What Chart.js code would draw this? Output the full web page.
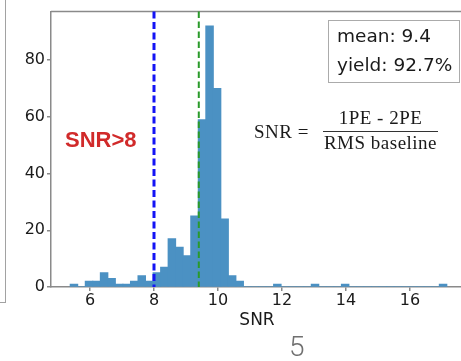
<!DOCTYPE html>
<html>
<head>
<meta charset="utf-8">
<script src="https://cdn.jsdelivr.net/npm/chart.js@4.4.1/dist/chart.umd.min.js"></script>
<style>
  html, body { margin: 0; padding: 0; background: #fff; }
  body { position: relative; width: 461px; height: 361px; overflow: hidden; }
  #chart { position: absolute; left: 0; top: 0; }
  .edge { position: absolute; left: -10px; top: -10px; width: 15px; height: 312px;
          border-right: 1.5px solid #a2a2a2; border-bottom: 1.5px solid #a2a2a2; }
  .cut { position: absolute; left: 65px; top: 129px; font: bold 22px/22px "Liberation Sans", Arial, sans-serif;
         color: #d12a2a; white-space: nowrap; }
  .stats { position: absolute; left: 328px; top: 20px; width: 132px; height: 63px; box-sizing: border-box;
           border: 1.5px solid #ababab; }
  .stats div { position: absolute; left: 8px; font: 18.5px/29px "DejaVu Sans", sans-serif; color: #1a1a1a; white-space: nowrap; }
  .math { position: absolute; font: 19px/19px "Liberation Serif", "Times New Roman", serif; color: #1a1a1a;
          letter-spacing: 0.5px; white-space: nowrap; }
  .bar { position: absolute; left: 323px; top: 131px; width: 115px; height: 0; border-top: 1px solid #333; }
  .page { position: absolute; left: 289px; top: 333px; font: 300 28px/28px Roboto, sans-serif; color: #707070; }
</style>
</head>
<body>
<canvas id="chart" width="465" height="361" style="width:465px;height:361px"></canvas>
<div class="edge"></div>
<div class="cut">SNR&gt;8</div>
<div class="stats">
  <div style="top:0.3px">mean: 9.4</div>
  <div style="top:29.3px">yield: 92.7%</div>
</div>
<div class="math" style="left:254px;top:121.6px">SNR =</div>
<div class="math" style="left:323px;top:108px;width:115px;text-align:center">1PE - 2PE</div>
<div class="bar"></div>
<div class="math" style="left:323px;top:133.4px;width:115px;text-align:center">RMS baseline</div>
<div class="page">5</div>
<script>
  // histogram bins (centres) and counts per bin
  const binCenters = [
    5.498, 5.733, 5.969, 6.204, 6.440, 6.675, 6.911, 7.146, 7.382, 7.617,
    7.853, 8.088, 8.324, 8.559, 8.795, 9.030, 9.266, 9.501, 9.737, 9.972,
    10.208, 10.443, 10.679, 10.914, 11.150, 11.385, 11.621, 11.856, 12.092, 12.327,
    12.563, 12.798, 13.034, 13.269, 13.505, 13.740, 13.976, 14.211, 14.447, 14.682,
    14.918, 15.153, 15.389, 15.624, 15.860, 16.095, 16.331, 16.566, 16.802, 17.037,
  ];
  const binCounts = [
    1, 0, 2, 2, 5, 3, 1, 1, 2, 4,
    2, 5, 7, 17, 14, 11, 25, 59, 92, 70,
    24, 4, 2, 0, 0, 0, 0, 1, 0, 0,
    0, 0, 1, 0, 0, 0, 1, 0, 0, 0,
    0, 0, 0, 0, 0, 0, 0, 0, 0, 1,
  ];
  const xTicks = [6, 8, 10, 12, 14, 16];
  const yTicks = [0, 20, 40, 60, 80];
  const snrCut = 8;
  const snrMean = 9.4;

  const AXIS = "#8a8a8a";
  const tickFont = { family: "'DejaVu Sans', sans-serif", size: 16 };

  // top spine plus the two dashed reference lines
  const overlays = {
    id: "overlays",
    afterDatasetsDraw(chart) {
      const { ctx, chartArea: a, scales } = chart;
      ctx.save();
      ctx.strokeStyle = AXIS;
      ctx.lineWidth = 1.5;
      ctx.beginPath();
      ctx.moveTo(a.left, a.top);
      ctx.lineTo(a.right, a.top);
      ctx.stroke();

      const vline = (value, color, width, dash) => {
        const x = scales.x.getPixelForValue(value);
        ctx.strokeStyle = color;
        ctx.lineWidth = width;
        ctx.setLineDash(dash);
        ctx.beginPath();
        ctx.moveTo(x, a.top);
        ctx.lineTo(x, a.bottom);
        ctx.stroke();
      };
      vline(snrCut, "#1414f5", 3, [7, 3.5]);
      vline(snrMean, "#2a9a2a", 2, [6.5, 3.5]);
      ctx.restore();
    },
  };

  new Chart(document.getElementById("chart"), {
    type: "bar",
    data: {
      datasets: [{
        data: binCenters.map((x, i) => ({ x, y: binCounts[i] })),
        backgroundColor: "#4b91c3",
        borderWidth: 0,
        inflateAmount: 0.5,
        barPercentage: 1,
        categoryPercentage: 1,
      }],
    },
    options: {
      responsive: false,
      animation: false,
      devicePixelRatio: 1,
      layout: { padding: { top: 11, right: 2, left: 0, bottom: 0 } },
      plugins: { legend: { display: false }, tooltip: { enabled: false } },
      scales: {
        x: {
          type: "linear",
          offset: false,
          min: 4.78,
          max: 17.66,
          afterBuildTicks: (scale) => { scale.ticks = xTicks.map((value) => ({ value })); },
          afterFit: (scale) => { scale.height = 74; },
          grid: { drawOnChartArea: false, color: AXIS, tickLength: 4, lineWidth: 1.5, offset: false },
          border: { color: AXIS, width: 1.5 },
          ticks: { font: tickFont, color: "#1a1a1a", padding: 0, maxRotation: 0 },
          title: {
            display: true,
            text: "SNR",
            font: { family: "'DejaVu Sans', sans-serif", size: 17 },
            color: "#1a1a1a",
            padding: { top: 0, bottom: 30 },
          },
        },
        y: {
          min: 0,
          max: 97.1,
          afterBuildTicks: (scale) => { scale.ticks = yTicks.map((value) => ({ value })); },
          afterFit: (scale) => { scale.width = 51; },
          grid: { drawOnChartArea: false, color: AXIS, tickLength: 4, lineWidth: 1.5 },
          border: { color: AXIS, width: 1.5 },
          ticks: { font: tickFont, color: "#1a1a1a", padding: 2 },
        },
      },
    },
    plugins: [overlays],
  });
</script>
</body>
</html>
